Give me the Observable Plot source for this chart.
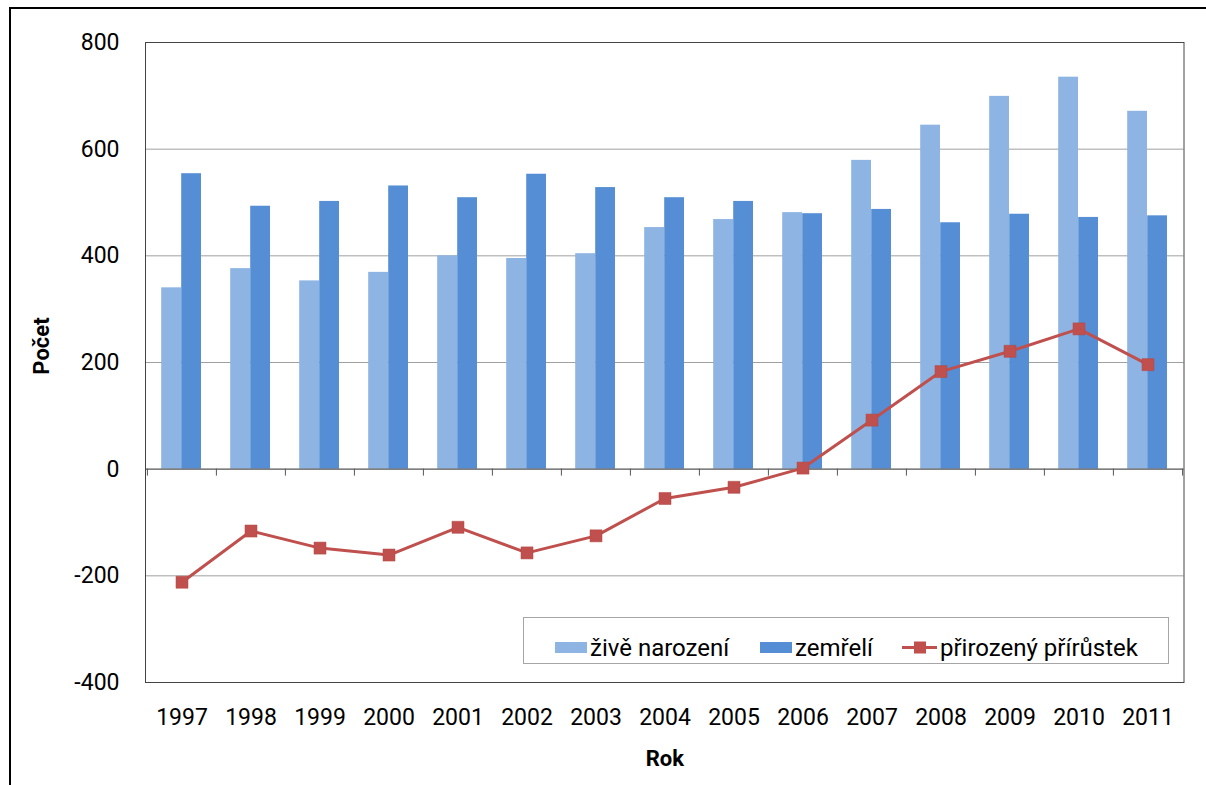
<!DOCTYPE html>
<html>
<head>
<meta charset="utf-8">
<script src="https://cdn.jsdelivr.net/npm/d3@7"></script>
<script src="https://cdn.jsdelivr.net/npm/@observablehq/plot@0.6"></script>
<style>
  body { margin: 0; background: #fff; }
  #wrap { position: relative; width: 1206px; height: 785px; overflow: hidden; font-family: Roboto, sans-serif; }
  #outer { position: absolute; left: 9px; top: 7px; width: 1400px; height: 900px; border-top: 2px solid #000; border-left: 2px solid #000; }
  #chart { position: absolute; left: 0; top: 0; }
  #legend { position: absolute; left: 0; top: 0; pointer-events: none; }
</style>
</head>
<body>
<div id="wrap">
  <div id="outer"></div>
  <div id="chart"></div>
  <svg id="legend" width="1206" height="785"></svg>
</div>
<script>
const years = ["1997","1998","1999","2000","2001","2002","2003","2004","2005","2006","2007","2008","2009","2010","2011"];
const born = [340, 376, 353, 369, 400, 395, 404, 453, 468, 481, 579, 645, 699, 735, 671];
const died = [554, 493, 502, 531, 509, 553, 528, 509, 502, 479, 487, 462, 478, 472, 475];
const natural = [-212, -116, -148, -161, -109, -157, -125, -55, -34, 2, 92, 183, 221, 263, 196];
const yTicks = [-400, -200, 0, 200, 400, 600, 800];
const seriesNames = ["živě narození", "zemřelí", "přirozený přírůstek"];
const colors = ["#8eb4e3", "#558ed5", "#c0504d"];

const rows = years.map((year, i) => ({year, born: born[i], died: died[i], natural: natural[i]}));

const chart = Plot.plot({
  width: 1206,
  height: 785,
  marginLeft: 145,
  marginTop: 42,
  marginRight: 22.5,
  marginBottom: 103,
  style: {fontFamily: "Roboto, sans-serif", fontSize: "23px", color: "#000", background: "transparent", overflow: "visible"},
  x: {type: "band", domain: years, padding: 0, label: null, tickSize: 0, tickPadding: 26},
  y: {domain: [-400, 800], ticks: yTicks, tickSize: 0, tickPadding: 26, label: null, tickFormat: d => String(d)},
  marks: [
    Plot.ruleY([-200, 200, 400, 600], {stroke: "#a0a0a0", strokeWidth: 1}),
    Plot.barY(rows, {x: "year", y: "born", fill: colors[0], insetLeft: 14.2, insetRight: 35}),
    Plot.barY(rows, {x: "year", y: "died", fill: colors[1], insetLeft: 34.2, insetRight: 15}),
    Plot.ruleY([0], {stroke: "#555", strokeWidth: 1.2}),
    Plot.ruleX(years, {x: d => d, y1: 0, y2: -13, dx: -34.6, stroke: "#555"}),
    Plot.ruleX([years[years.length - 1]], {x: d => d, y1: 0, y2: -13, dx: 34.6, stroke: "#555"}),
    Plot.frame({stroke: "#444"}),
    Plot.line(rows, {x: "year", y: "natural", stroke: colors[2], strokeWidth: 3}),
    Plot.dot(rows, {x: "year", y: "natural", symbol: "square", r: 6.8, fill: colors[2], stroke: "#b34845", strokeWidth: 0.5}),
    Plot.text(["Počet"], {text: d => d, frameAnchor: "left", textAnchor: "middle", dx: -104, dy: -16.5, rotate: -90, fontWeight: "bold", fontSize: 22}),
    Plot.text(["Rok"], {text: d => d, frameAnchor: "bottom", dy: 83, fontWeight: "bold", fontSize: 22})
  ]
});
document.getElementById("chart").appendChild(chart);

// legend
const lg = d3.select("#legend");
lg.append("rect").attr("x", 523.5).attr("y", 617.5).attr("width", 645).attr("height", 46)
  .attr("fill", "#fff").attr("stroke", "#a6a6a6");
const ty = 656;
lg.append("rect").attr("x", 555).attr("y", 642).attr("width", 32).attr("height", 11).attr("fill", colors[0]);
lg.append("text").attr("x", 590).attr("y", ty).text(seriesNames[0]);
lg.append("rect").attr("x", 760).attr("y", 642).attr("width", 32).attr("height", 11).attr("fill", colors[1]);
lg.append("text").attr("x", 795).attr("y", ty).text(seriesNames[1]);
lg.append("line").attr("x1", 902).attr("x2", 937).attr("y1", 647.5).attr("y2", 647.5).attr("stroke", colors[2]).attr("stroke-width", 3);
lg.append("rect").attr("x", 914).attr("y", 641.5).attr("width", 12).attr("height", 12).attr("fill", colors[2]);
lg.append("text").attr("x", 940).attr("y", ty).text(seriesNames[2]);
lg.selectAll("text").attr("font-family", "Roboto, sans-serif").attr("font-size", 24).attr("fill", "#000");
</script>
</body>
</html>
